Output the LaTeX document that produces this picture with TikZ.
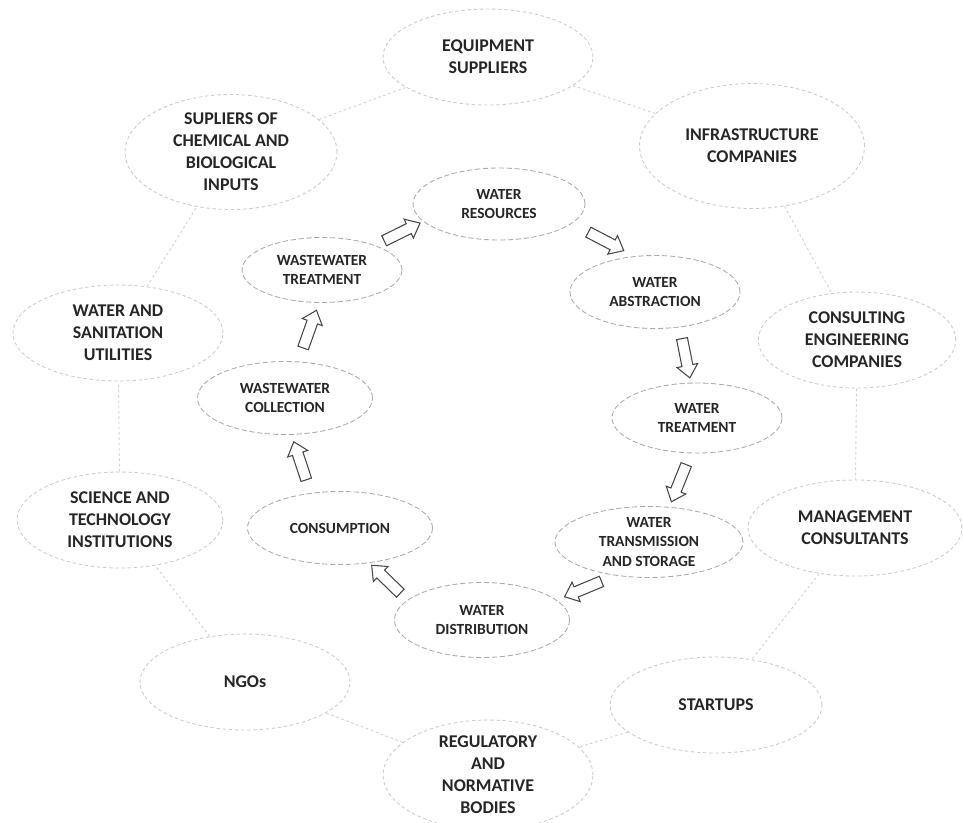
\documentclass[tikz,border=0pt]{standalone}
\usepackage{fontspec}
\setmainfont{Carlito}
\usetikzlibrary{shapes.geometric,shapes.arrows}

\begin{document}
\begin{tikzpicture}[x=0.02cm, y=-0.02cm,
    actor/.style={ellipse, draw=gray!40, dash pattern=on 2pt off 1.5pt, line width=0.5pt,
        inner sep=0pt, align=center, text=black!85,
        font=\fontsize{10.2}{12.5}\selectfont\bfseries,
        minimum width=4.2cm, minimum height=1.92cm},
    stage/.style={ellipse, draw=gray!65, dash pattern=on 3pt off 1.5pt, line width=0.5pt,
        inner sep=0pt, align=center, text=black!85,
        font=\fontsize{8.8}{11}\selectfont\bfseries},
    link/.style={draw=gray!35, dash pattern=on 1.5pt off 1.5pt, line width=0.5pt},
    flow/.style={single arrow, draw=gray!55!black, fill=white, line width=0.6pt,
        minimum height=0.8cm, inner xsep=0pt, inner ysep=0.1cm,
        single arrow head extend=0.1cm, single arrow tip angle=80,
        sloped, allow upside down}]

    \useasboundingbox (0,0) rectangle (963,822);

    % outer ring
    \node[actor] (equip) at (488,57) {EQUIPMENT\\SUPPLIERS};
    \node[actor, minimum width=4.5cm, minimum height=2.5cm] (infra) at (752,146) {INFRASTRUCTURE\\COMPANIES};
    \node[actor, minimum width=3.95cm] (cons) at (857,340) {CONSULTING\\ENGINEERING\\COMPANIES};
    \node[actor, minimum width=4.28cm] (mgmt) at (855,528) {MANAGEMENT\\CONSULTANTS};
    \node[actor, minimum width=4.24cm] (start) at (716,705) {STARTUPS};
    \node[actor] (reg) at (488,775) {REGULATORY\\AND\\NORMATIVE\\BODIES};
    \node[actor] (ngo) at (245,682) {NGOs};
    \node[actor, minimum width=4.12cm] (sci) at (120,520) {SCIENCE AND\\TECHNOLOGY\\INSTITUTIONS};
    \node[actor] (util) at (118,333) {WATER AND\\SANITATION\\UTILITIES};
    \node[actor, minimum width=4.24cm, minimum height=2.3cm] (supl) at (231,152) {SUPLIERS OF\\CHEMICAL AND\\BIOLOGICAL\\INPUTS};

    \draw[link] (equip) -- (infra) -- (cons) -- (mgmt) -- (start) -- (reg);
    \draw[link] (reg) -- (ngo) -- (sci) -- (util) -- (supl) -- (equip);

    % water cycle
    \node[stage, minimum width=3.44cm, minimum height=1.44cm] (wr) at (499,204) {WATER\\RESOURCES};
    \node[stage, minimum width=3.4cm, minimum height=1.46cm] (wa) at (655,292) {WATER\\ABSTRACTION};
    \node[stage, minimum width=3.4cm, minimum height=1.4cm] (wt) at (697,418) {WATER\\TREATMENT};
    \node[stage, minimum width=3.76cm, minimum height=1.42cm] (wts) at (649,542) {WATER\\TRANSMISSION\\AND STORAGE};
    \node[stage, minimum width=3.5cm, minimum height=1.5cm] (wd) at (482,620) {WATER\\DISTRIBUTION};
    \node[stage, minimum width=3.7cm, minimum height=1.46cm] (con) at (340,528) {CONSUMPTION};
    \node[stage, minimum width=3.5cm, minimum height=1.46cm] (wc) at (285,398) {WASTEWATER\\COLLECTION};
    \node[stage, minimum width=3.2cm, minimum height=1.3cm] (wwt) at (322,270) {WASTEWATER\\TREATMENT};

    \path (wwt.25) -- (wr.193) node[midway, flow] {};
    \path (wr.-15) -- (wa.120) node[midway, flow] {};
    \path (wa.-55) -- (wt.100) node[midway, flow] {};
    \path (wt.-100) -- (wts.60) node[midway, flow] {};
    \path (wts.225) -- (wd.15) node[midway, flow] {};
    \path (wd.165) -- (con.-50) node[midway, flow] {};
    \path (con.130) -- (wc.-80) node[midway, flow] {};
    \path (wc.70) -- (wwt.-95) node[midway, flow] {};
\end{tikzpicture}
\end{document}
